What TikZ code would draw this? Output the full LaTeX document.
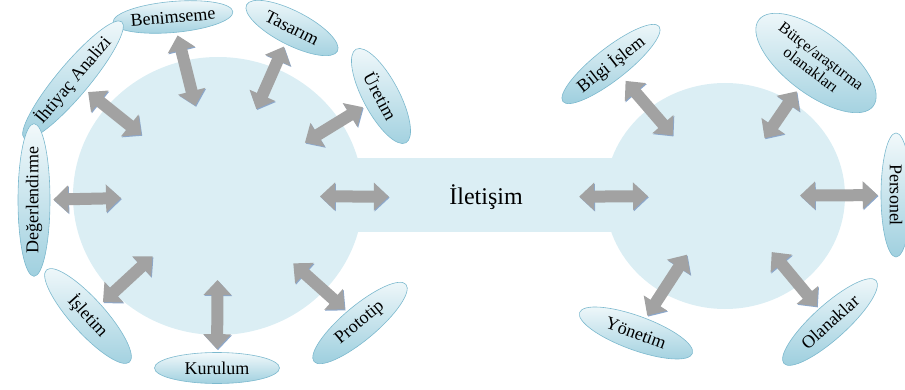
\documentclass[tikz,border=0pt]{standalone}
\usepackage{fontspec}
\setmainfont{Liberation Serif}
\usetikzlibrary{shapes,calc}
\usetikzlibrary{arrows.meta}
\definecolor{hubblue}{RGB}{219,238,244}
\definecolor{bubtop}{RGB}{242,249,251}
\definecolor{bubbot}{RGB}{160,208,223}
\definecolor{bubline}{RGB}{124,185,206}
\definecolor{arrgray}{RGB}{162,162,162}
\definecolor{arredge}{RGB}{140,168,204}
\tikzset{
  hub/.style={ellipse,fill=hubblue,inner sep=0pt},
  bubble/.style={ellipse,draw=bubline,line width=0.6pt,top color=bubtop,bottom color=bubbot,
    inner sep=0pt,font=\fontsize{18}{20}\selectfont},
  link/.style={line width=12pt,draw=arrgray,
    {Triangle[width=27pt,length=15pt]}-{Triangle[width=27pt,length=15pt]},shorten >=3pt,
    preaction={draw=arredge,transform canvas={xshift=0.8pt,yshift=-1pt}}}
}

\begin{document}
\begin{tikzpicture}[x=1pt,y=-1pt]
  \useasboundingbox (0,0) rectangle (905,390);
  % hubs and the bar between them
  \node[hub,minimum width=290pt,minimum height=278pt] (hubL) at (218,196) {};
  \node[hub,minimum width=240pt,minimum height=226pt] (hubR) at (725,196) {};
  \fill[hubblue] ($(hubL)+(0,-38)$) rectangle ($(hubR)+(0,36)$);
  \node[font=\fontsize{24}{27}\selectfont] (iletisim) at (486,197) {İletişim};

  % left bubbles
  \node[bubble,minimum width=102pt,minimum height=31pt,rotate=5] (benimseme) at (173,17) {Benimseme};
  \node[bubble,minimum width=102pt,minimum height=34pt,rotate=-27] (tasarim) at (292,28) {Tasarım};
  \node[bubble,minimum width=106pt,minimum height=36pt,rotate=-62] (uretim) at (381,96) {Üretim};
  \node[bubble,minimum width=124pt,minimum height=32pt,rotate=50] (ihtiyac) at (73,80) {İhtiyaç Analizi};
  \node[bubble,minimum width=126pt,minimum height=32pt,rotate=90] (degerlendirme) at (34,200) {Değerlendirme};
  \node[bubble,minimum width=124pt,minimum height=34pt,rotate=-48] (isletim) at (88,316) {İşletim};
  \node[bubble,minimum width=125pt,minimum height=31pt] (kurulum) at (217,368) {Kurulum};
  \node[bubble,minimum width=120pt,minimum height=34pt,rotate=40] (prototip) at (360,323) {Prototip};

  % right bubbles
  \node[bubble,minimum width=122pt,minimum height=32pt,rotate=38] (bilgi) at (611,64) {Bilgi İşlem};
  \node[bubble,minimum width=136pt,minimum height=62pt,rotate=-37,align=center,
    font=\fontsize{16}{17}\selectfont] (butce) at (816,63) {Bütçe/araştırma\\olanakları};
  \node[bubble,minimum width=124pt,minimum height=30pt,rotate=-90] (personel) at (896,195) {Personel};
  \node[bubble,minimum width=120pt,minimum height=34pt,rotate=-20] (yonetim) at (636,333) {Yönetim};
  \node[bubble,minimum width=124pt,minimum height=34pt,rotate=42] (olanaklar) at (830,322) {Olanaklar};

  % arrows, left hub
  \draw[link] ($(hubL)!93pt!(benimseme)$) -- (benimseme);
  \draw[link] ($(hubL)!95pt!(tasarim)$) -- (tasarim);
  \draw[link] ($(hubL)!102pt!(uretim)$) -- (uretim);
  \draw[link] ($(hubL)!98pt!(ihtiyac)$) -- (ihtiyac);
  \draw[link] ($(hubL)!97pt!(degerlendirme)$) -- (degerlendirme);
  \draw[link] ($(hubL)!89pt!(isletim)$) -- (isletim);
  \draw[link] ($(hubL)!84pt!(kurulum)$) -- (kurulum);
  \draw[link] ($(hubL)!101pt!(prototip)$) -- (prototip);
  \draw[link,shorten >=57pt] ($(hubL)!102pt!(iletisim)$) -- (iletisim);

  % arrows, right hub
  \draw[link,shorten >=53pt] ($(hubR)!77pt!(iletisim)$) -- (iletisim);
  \draw[link,shorten >=6pt] ($(hubR)!80pt!(bilgi)$) -- (bilgi);
  \draw[link] ($(hubR)!70pt!(butce)$) -- (butce);
  \draw[link] ($(hubR)!75pt!(personel)$) -- (personel);
  \draw[link] ($(hubR)!70pt!(yonetim)$) -- (yonetim);
  \draw[link] ($(hubR)!73pt!(olanaklar)$) -- (olanaklar);
\end{tikzpicture}
\end{document}
